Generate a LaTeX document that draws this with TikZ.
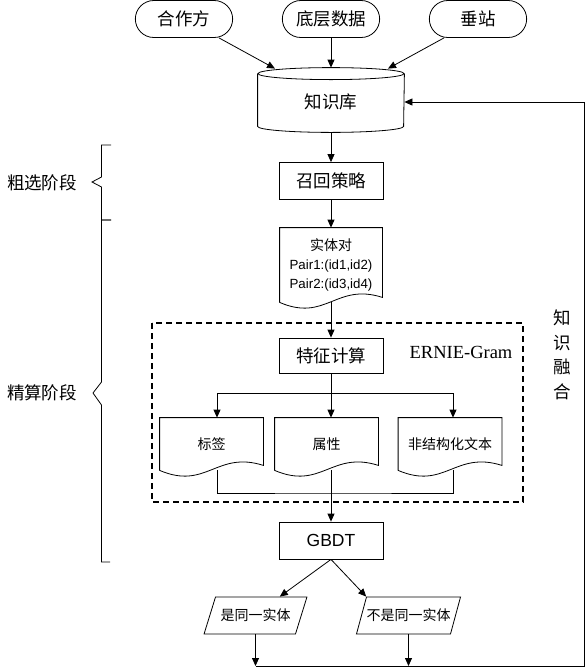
\documentclass[tikz,border=0pt]{standalone}
\usepackage{fontspec}
\setmainfont{Liberation Sans}
\newfontfamily\cjk{Noto Sans CJK SC}
\newfontfamily\ernie{Liberation Serif}
\usepackage{tikz}
\usetikzlibrary{calc,arrows.meta,shapes.misc,shapes.geometric}
\tikzstyle{source}  = [rounded rectangle, minimum width=104pt, minimum height=37pt, draw=black, font=\cjk\fontsize{17.5}{20}\selectfont]
\tikzstyle{process} = [rectangle, minimum width=104pt, minimum height=37pt, draw=black, font=\cjk\fontsize{17.5}{20}\selectfont]
\tikzstyle{doc}     = [rectangle, minimum width=103pt, minimum height=52pt, align=center, font=\cjk\fontsize{14}{19}\selectfont]
\tikzstyle{io}      = [trapezium, trapezium left angle=63, trapezium right angle=117, trapezium stretches=true, minimum width=103pt, minimum height=37pt, inner xsep=0pt, draw=black, font=\cjk\fontsize{14}{16}\selectfont]
\tikzstyle{label}   = [font=\cjk\fontsize{17.5}{24.5}\selectfont, align=center]
\tikzstyle{arrow}   = [->,>={Triangle[length=8pt,width=7pt]}]
% outline of a document box with a wavy bottom
\newcommand{\docwave}[1]{%
  \draw (#1.south west) -- (#1.north west) -- (#1.north east) -- ([yshift=5pt]#1.south east)
    .. controls ($(#1.south)+(5pt,20pt)$) and ($(#1.south)+(-5pt,-20pt)$) .. (#1.south west);}
\begin{document}
\begin{tikzpicture}[x=1pt,y=1pt,line width=0.8pt]
        \useasboundingbox (0,0) rectangle (587,-670);

        % data sources and knowledge base
        \node[source] (src1) at (184,-19) {合作方};
        \node[source] (src2) at (331,-19) {底层数据};
        \node[source] (src3) at (478,-19) {垂站};
        \node[rectangle, minimum width=146pt, minimum height=44pt, font=\cjk\fontsize{17.5}{20}\selectfont] (kb) at (331,-102) {知识库};
        \draw ([yshift=6pt]kb.north west) -- ([yshift=-2pt]kb.south west)
              arc[start angle=180, end angle=360, x radius=73, y radius=6] -- ([yshift=6pt]kb.north east);
        \draw ([yshift=6pt]kb.north) ellipse [x radius=73, y radius=6];

        \draw[arrow] ([xshift=35pt]src1.south) -- ([xshift=-56pt,yshift=11pt]kb.north);
        \draw[arrow] (src2.south) -- ([yshift=12pt]kb.north);
        \draw[arrow] ([xshift=-34pt]src3.south) -- ([xshift=57pt,yshift=11pt]kb.north);

        % coarse stage
        \node[process] (recall) at (331,-181) {召回策略};
        \node[doc, minimum width=102pt, minimum height=74pt] (pairs) at (331,-265)
              {实体对\\\fontsize{13.3}{19}\selectfont\rmfamily Pair1:(id1,id2)\\\fontsize{13.3}{19}\selectfont\rmfamily Pair2:(id3,id4)};
        \docwave{pairs}
        \draw[arrow] ([yshift=-8pt]kb.south) -- (recall.north);
        \draw[arrow] (recall.south) -- (pairs.north);

        % fine stage
        \draw[dash pattern=on 6pt off 4pt, line width=1.3pt] (152,-323) rectangle (523,-502);
        \node[process, minimum height=35pt] (feat) at (331,-355.5) {特征计算};
        \node[font=\ernie\fontsize{18.5}{20}\selectfont] (ernie) at (461,-352) {ERNIE-Gram};
        \draw[arrow] (pairs.south) -- (feat.north);

        \node[doc] (lbl)  at (211.5,-444) {标签};
        \node[doc] (attr) at (326.5,-444) {属性};
        \node[doc] (txt)  at (450,-444) {非结构化文本};
        \foreach \d in {lbl,attr,txt} {\docwave{\d}}

        \coordinate (b1) at (217,-393);
        \coordinate (b2) at (331,-393);
        \coordinate (b3) at (453,-393);
        \coordinate (m)  at (331,-493);
        \draw (feat.south) -- (b2);
        \draw (b1) -- (b3);
        \foreach \b/\d in {b1/lbl,b2/attr,b3/txt}
            \draw[arrow] (\b) -- (\b |- \d.north);

        \node[process, font=\fontsize{17.5}{20}\selectfont] (gbdt) at (331,-540.5) {GBDT};
        \draw (b1 |- lbl.south) |- (m) -| (b3 |- txt.south);
        \draw[arrow] (b2 |- attr.south) -- (gbdt.north);

        % results
        \node[io] (yes) at (255.5,-615.5) {是同一实体};
        \node[io] (no)  at (408.5,-615.5) {不是同一实体};
        \draw[arrow] (gbdt.south) -- ($(yes.top left corner)!0.7!(yes.top right corner)$);
        \draw[arrow] (gbdt.south) -- (no.top left corner);

        % knowledge fusion loop
        \coordinate (fb) at (584,-666);
        \draw[arrow] (yes.south) -- (yes.south |- fb);
        \draw[arrow] (no.south) -- (no.south |- fb);
        \draw[arrow] (yes.south |- fb) -- (fb) |- (kb.east);
        \node[label] (fusion) at (562,-355) {知\\识\\融\\合};

        % stage brackets
        \draw (111,-145) -- (101.5,-145) -- (101.5,-177) -- (92,-182) -- (101.5,-187) -- (101.5,-220) -- (111,-220);
        \draw (111,-220) -- (101.5,-220) -- (101.5,-382) -- (93,-393) -- (101.5,-405) -- (101.5,-562) -- (110,-562);
        \node[label] (coarse) at (42,-183) {粗选阶段};
        \node[label] (fine)   at (42,-393) {精算阶段};
\end{tikzpicture}
\end{document}
